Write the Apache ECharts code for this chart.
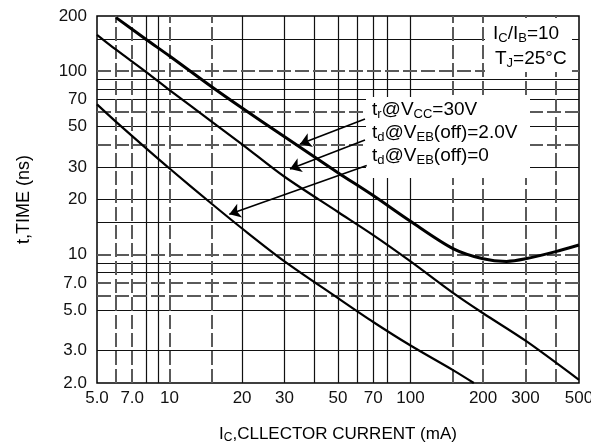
<!DOCTYPE html>
<html><head><meta charset="utf-8">
<script src="https://cdn.jsdelivr.net/npm/echarts@6/dist/echarts.min.js"></script>
<style>html,body{margin:0;padding:0;background:#fff}#c{width:591px;height:447px}</style>
</head><body><div id="c"></div>
<script>
// ---- data ----
const xTicks = [5, 7, 10, 20, 30, 50, 70, 100, 200, 300, 500];
const xTickText = ['5.0', '7.0', '10', '20', '30', '50', '70', '100', '200', '300', '500'];
const yTicks = [2, 3, 5, 7, 10, 20, 30, 50, 70, 100, 200];
const yTickText = ['2.0', '3.0', '5.0', '7.0', '10', '20', '30', '50', '70', '100', '200'];
const xGridSolid = [8, 9, 20, 30, 40, 50, 60, 70, 80, 100];
const xGridDashed = [6, 7, 10, 15, 150, 200, 300, 400];
const yGridSolid = [3, 5, 8, 9, 15, 20, 30, 50, 70, 80, 90, 150];
const yGridDashed = [6, 7, 10, 40, 60, 100];

// tr @ VCC = 30 V
const trCurrent = [6, 8, 10, 15, 20, 30, 50, 70, 100, 150, 200, 250, 300, 400, 500];
const trTime    = [196, 149, 121, 82, 63, 44, 28, 21, 15.2, 10.8, 9.5, 9.2, 9.5, 10.4, 11.3];
// td @ VEB(off) = 2.0 V
const td2Current = [5, 6, 8, 10, 15, 20, 30, 50, 70, 100, 150, 200, 300, 500];
const td2Time    = [158, 131, 99, 79, 53, 40, 26.6, 17.1, 12.8, 9.2, 6.2, 4.8, 3.4, 2.08];
// td @ VEB(off) = 0
const td0Current = [5, 6, 8, 10, 15, 20, 30, 50, 70, 100, 150, 183];
const td0Time    = [66, 53, 38, 29.5, 18.9, 13.9, 9.2, 5.8, 4.3, 3.2, 2.35, 2.0];

// annotation arrows: [start current, start time, tip current, tip time]
const arrowTr  = [64.7, 54.9, 34.8, 40.1];
const arrowTd2 = [64.7, 42.2, 31.6, 29.3];
const arrowTd0 = [65.8, 30.6, 17.7, 16.6];

// ---- chart ----
const SANS = "'Liberation Sans',Arial,Helvetica,sans-serif";
const pair = (a, b) => a.map((v, i) => [v, b[i]]);
function labelFor(v, ticks, texts) {
  let best = 0;
  for (let i = 0; i < ticks.length; i++) {
    if (Math.abs(Math.log(ticks[i]) - Math.log(v)) < Math.abs(Math.log(ticks[best]) - Math.log(v))) best = i;
  }
  return texts[best];
}
const annRich = {
  m: { fontFamily: SANS, fontSize: 19, lineHeight: 22, color: '#000' },
  s: { fontFamily: SANS, fontSize: 13, lineHeight: 10, verticalAlign: 'bottom', color: '#000' }
};
const titleRich = {
  m: { fontFamily: SANS, fontSize: 17, lineHeight: 20, color: '#000' },
  s: { fontFamily: SANS, fontSize: 12, lineHeight: 9, verticalAlign: 'bottom', color: '#000' }
};
const arrowLine = a => [{ coord: [a[0], a[1]] }, { coord: [a[2], a[3]] }];

const chart = echarts.init(document.getElementById('c'), null, { renderer: 'canvas' });
chart.setOption({
  animation: false,
  backgroundColor: '#fff',
  grid: { left: 97, right: 12, top: 16, bottom: 64, show: true, borderColor: '#000', borderWidth: 1.5,
    backgroundColor: '#fff', containLabel: false, outerBoundsMode: 'none' },
  xAxis: {
    type: 'log', logBase: 10, min: 5, max: 500,
    name: '{m|I}{s|C}{m|,CLLECTOR CURRENT (mA)}',
    nameLocation: 'middle', nameGap: 41,
    nameTextStyle: { rich: titleRich },
    axisLine: { show: false }, axisTick: { show: false }, splitLine: { show: false },
    axisLabel: { customValues: xTicks, formatter: v => labelFor(v, xTicks, xTickText),
      fontFamily: SANS, fontSize: 17, color: '#111', margin: 7 }
  },
  yAxis: {
    type: 'log', logBase: 10, min: 2, max: 200,
    name: 't,TIME (ns)', nameLocation: 'middle', nameGap: 64,
    nameTextStyle: { fontFamily: SANS, fontSize: 18, color: '#000' },
    axisLine: { show: false }, axisTick: { show: false }, splitLine: { show: false },
    axisLabel: { customValues: yTicks, formatter: v => labelFor(v, yTicks, yTickText),
      fontFamily: SANS, fontSize: 17, color: '#111', margin: 10 }
  },
  graphic: [
    { type: 'rect', z: 30, silent: true, shape: { x: 485, y: 18, width: 87, height: 54 }, style: { fill: '#fff' } },
    { type: 'rect', z: 30, silent: true, shape: { x: 366, y: 97, width: 164, height: 81 }, style: { fill: '#fff' } },
    { type: 'text', z: 40, x: 493, y: 23, style: { text: '{m|I}{s|C}{m|/I}{s|B}{m|=10}', rich: annRich, verticalAlign: 'top' } },
    { type: 'text', z: 40, x: 495, y: 48, style: { text: '{m|T}{s|J}{m|=25°C}', rich: annRich, verticalAlign: 'top' } },
    { type: 'text', z: 40, x: 372, y: 99, style: { text: '{m|t}{s|r}{m|@V}{s|CC}{m|=30V}', rich: annRich, verticalAlign: 'top' } },
    { type: 'text', z: 40, x: 372, y: 122, style: { text: '{m|t}{s|d}{m|@V}{s|EB}{m|(off)=2.0V}', rich: annRich, verticalAlign: 'top' } },
    { type: 'text', z: 40, x: 372, y: 145, style: { text: '{m|t}{s|d}{m|@V}{s|EB}{m|(off)=0}', rich: annRich, verticalAlign: 'top' } }
  ],
  series: [
    { type: 'line', name: 'gridSolid', z: 1, silent: true, data: [],
      markLine: { z: 1, silent: true, symbol: 'none', animation: false, label: { show: false },
        lineStyle: { color: '#111', width: 1.2, type: 'solid' },
        data: xGridSolid.map(v => ({ xAxis: v })).concat(yGridSolid.map(v => ({ yAxis: v }))) } },
    { type: 'line', name: 'gridDashed', z: 1, silent: true, data: [],
      markLine: { z: 1, silent: true, symbol: 'none', animation: false, label: { show: false },
        lineStyle: { color: '#5a5a5a', width: 2, type: [14, 4] },
        data: xGridDashed.map(v => ({ xAxis: v })).concat(yGridDashed.map(v => ({ yAxis: v }))) } },
    { type: 'line', name: 'tr@VCC=30V', z: 50, silent: true, data: pair(trCurrent, trTime),
      showSymbol: false, smooth: 0.3, lineStyle: { color: '#000', width: 3 } },
    { type: 'line', name: 'td@VEB(off)=2.0V', z: 50, silent: true, data: pair(td2Current, td2Time),
      showSymbol: false, smooth: 0.3, lineStyle: { color: '#000', width: 2.2 } },
    { type: 'line', name: 'td@VEB(off)=0', z: 50, silent: true, data: pair(td0Current, td0Time),
      showSymbol: false, smooth: 0.3, lineStyle: { color: '#000', width: 2.2 } },
    { type: 'line', name: 'arrows', z: 50, silent: true, data: [],
      markLine: { z: 50, silent: true, symbol: ['none', 'arrow'], symbolSize: 11, animation: false,
        label: { show: false }, lineStyle: { color: '#000', width: 1.6, type: 'solid' },
        data: [arrowLine(arrowTr), arrowLine(arrowTd2), arrowLine(arrowTd0)] } }
  ]
});
</script></body></html>
